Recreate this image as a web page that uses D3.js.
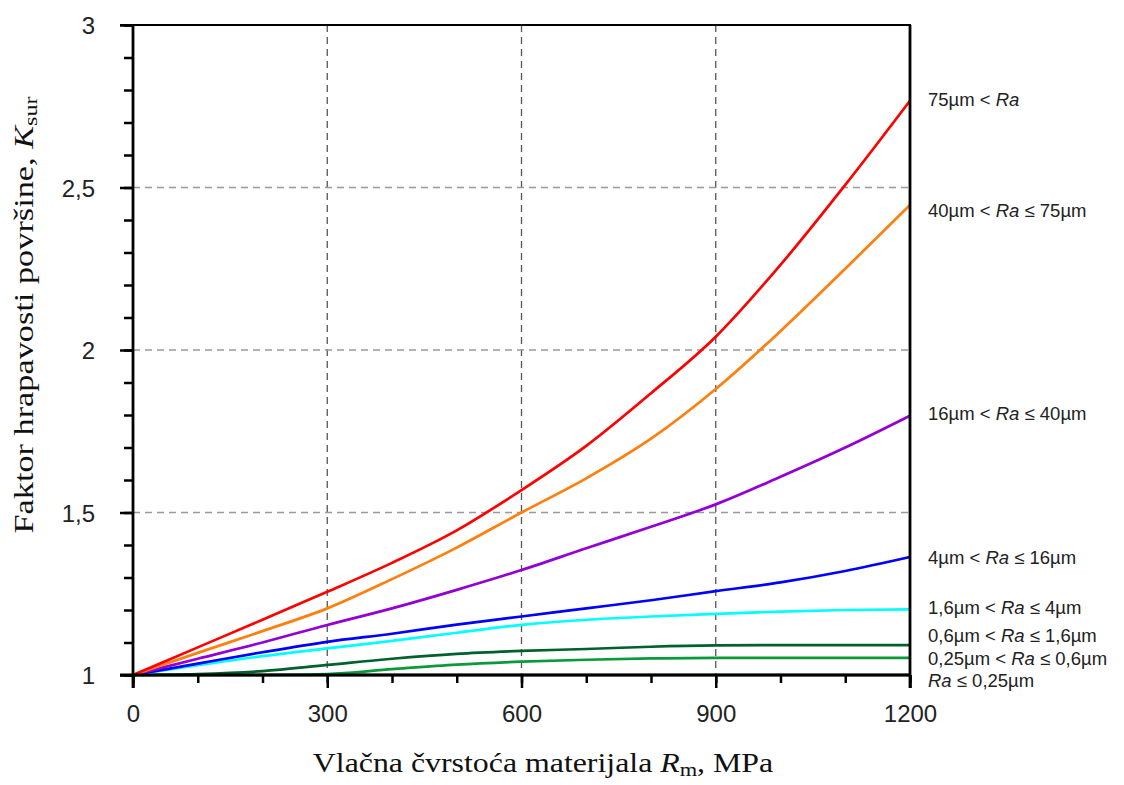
<!DOCTYPE html>
<html>
<head>
<meta charset="utf-8">
<script src="https://cdn.jsdelivr.net/npm/d3@7"></script>
<style>
  body { margin: 0; background: #fff; }
  svg { display: block; }
</style>
</head>
<body>
<svg id="chart" width="1124" height="785"></svg>
<script>
// ---- data ----
const strength = [0, 100, 200, 300, 400, 500, 600, 700, 800, 900, 1000, 1100, 1200];
const ra75 =     [1, 1.085, 1.17, 1.256, 1.345, 1.445, 1.569, 1.705, 1.867, 2.041, 2.262, 2.508, 2.767];
const ra40_75 =  [1, 1.068, 1.135, 1.205, 1.295, 1.392, 1.50, 1.605, 1.727, 1.88, 2.058, 2.25, 2.446];
const ra16_40 =  [1, 1.05, 1.10, 1.154, 1.205, 1.262, 1.323, 1.39, 1.456, 1.525, 1.61, 1.70, 1.798];
const ra4_16 =   [1, 1.035, 1.07, 1.102, 1.127, 1.155, 1.18, 1.205, 1.23, 1.258, 1.285, 1.32, 1.363];
const ra16_4 =   [1, 1.03, 1.058, 1.082, 1.105, 1.13, 1.154, 1.17, 1.18, 1.188, 1.195, 1.2, 1.202];
const ra06_16 =  [1, 1.003, 1.012, 1.031, 1.05, 1.065, 1.074, 1.08, 1.087, 1.091, 1.092, 1.092, 1.092];
const ra025_06 = [1, 1, 1, 1.003, 1.018, 1.032, 1.041, 1.047, 1.051, 1.053, 1.053, 1.053, 1.053];
const ra025 =    [1, 1, 1, 1, 1, 1, 1, 1, 1, 1, 1, 1, 1];

const seriesNames = [
  ["75µm < ", "Ra", ""],
  ["40µm < ", "Ra", " ≤ 75µm"],
  ["16µm < ", "Ra", " ≤ 40µm"],
  ["4µm < ", "Ra", " ≤ 16µm"],
  ["1,6µm < ", "Ra", " ≤ 4µm"],
  ["0,6µm < ", "Ra", " ≤ 1,6µm"],
  ["0,25µm < ", "Ra", " ≤ 0,6µm"],
  ["", "Ra", " ≤ 0,25µm"]
];
const seriesValues = [ra75, ra40_75, ra16_40, ra4_16, ra16_4, ra06_16, ra025_06, ra025];
const seriesColors = ["#ff0000", "#ff7f0e", "#9400d3", "#0000ff", "#00ffff", "#00602e", "#0a9a3c", "#000000"];
const labelValues = [2.77, 2.43, 1.805, 1.363, 1.208, 1.12, 1.05, 0.982];

const xTicks = [0, 300, 600, 900, 1200];
const yTicks = [1, 1.5, 2, 2.5, 3];

// ---- layout ----
const svg = d3.select("#chart");
const m = { left: 133, right: 910, top: 25, bottom: 675 };
const x = d3.scaleLinear().domain([0, 1200]).range([m.left, m.right]);
const y = d3.scaleLinear().domain([1, 3]).range([m.bottom, m.top]);
const fmt = d => String(d).replace(".", ",");

// grid
const grid = svg.append("g");
grid.selectAll("line.v").data(xTicks.slice(1, -1)).join("line")
  .attr("x1", d => x(d)).attr("x2", d => x(d))
  .attr("y1", m.top).attr("y2", m.bottom)
  .attr("stroke", "#555").attr("stroke-width", 1.3).attr("stroke-dasharray", "7,5");
grid.selectAll("line.h").data(yTicks.slice(1, -1)).join("line")
  .attr("x1", m.left).attr("x2", m.right)
  .attr("y1", d => y(d)).attr("y2", d => y(d))
  .attr("stroke", "#999").attr("stroke-width", 1.6).attr("stroke-dasharray", "7,5");

// curves
const line = d3.line()
  .x((d, i) => x(strength[i]))
  .y(d => y(d))
  .curve(d3.curveMonotoneX);
svg.append("g").selectAll("path").data(seriesValues.slice().reverse()).join("path")
  .attr("d", d => line(d))
  .attr("fill", "none")
  .attr("stroke", (d, i) => seriesColors[seriesValues.length - 1 - i])
  .attr("stroke-width", 2.7);

// axes
const axisFont = "Arial, 'Liberation Sans', sans-serif";
const yMinor = d3.axisLeft(y).tickValues(d3.range(10, 31).map(v => v / 10)).tickSize(9).tickFormat("");
const gYm = svg.append("g").attr("transform", `translate(${m.left},0)`).call(yMinor);
const yMajor = d3.axisLeft(y).tickValues(yTicks).tickSize(13).tickPadding(25).tickFormat(fmt);
const gY = svg.append("g").attr("transform", `translate(${m.left},0)`).call(yMajor);

const xMinor = d3.axisBottom(x).tickValues(d3.range(0, 1201, 100)).tickSize(8).tickFormat("");
const gXm = svg.append("g").attr("transform", `translate(0,${m.bottom})`).call(xMinor);
const xMajor = d3.axisBottom(x).tickValues(xTicks).tickSize(13).tickPadding(17).tickFormat(d => d);
const gX = svg.append("g").attr("transform", `translate(0,${m.bottom})`).call(xMajor);

[gYm, gY, gXm, gX].forEach(g => {
  g.select(".domain").remove();
  g.selectAll("line").attr("stroke", "#000").attr("stroke-width", 2.5);
  g.selectAll("text").attr("font-family", axisFont).attr("font-size", 24).attr("fill", "#222");
});
gY.selectAll("text").attr("dy", "0.36em");

// frame
const frame = svg.append("g").attr("stroke", "#000").attr("fill", "none");
frame.append("line").attr("x1", m.left).attr("x2", m.left).attr("y1", m.top - 1).attr("y2", m.bottom + 13).attr("stroke-width", 2.8);
frame.append("line").attr("x1", m.left - 13).attr("x2", m.right + 1).attr("y1", m.bottom).attr("y2", m.bottom).attr("stroke-width", 2.8);
frame.append("line").attr("x1", m.left - 13).attr("x2", m.right + 1).attr("y1", m.top).attr("y2", m.top).attr("stroke-width", 2.2);
frame.append("line").attr("x1", m.right).attr("x2", m.right).attr("y1", m.top).attr("y2", m.bottom + 13).attr("stroke-width", 2.8);

// series labels
const lab = svg.append("g").attr("font-family", axisFont).attr("font-size", 18.5).attr("fill", "#222");
seriesNames.forEach((parts, i) => {
  const t = lab.append("text").attr("x", 928).attr("y", y(labelValues[i])).attr("dy", "0.35em");
  t.append("tspan").text(parts[0]);
  t.append("tspan").attr("font-style", "italic").text(parts[1]);
  t.append("tspan").text(parts[2]);
});

// axis titles
const serif = "'Times New Roman', 'Liberation Serif', serif";
const xt = svg.append("text").attr("transform", "translate(543,772) scale(1.18,1)").attr("text-anchor", "middle")
  .attr("font-family", serif).attr("font-size", 27).attr("fill", "#111");
xt.append("tspan").text("Vlačna čvrstoća materijala ");
xt.append("tspan").attr("font-style", "italic").text("R");
xt.append("tspan").attr("font-size", 19).attr("dy", 4).text("m");
xt.append("tspan").attr("dy", -4).text(", MPa");

const yt = svg.append("text").attr("transform", "translate(33,315) rotate(-90) scale(1.27,1)").attr("text-anchor", "middle")
  .attr("font-family", serif).attr("font-size", 27).attr("fill", "#111");
yt.append("tspan").text("Faktor hrapavosti površine, ");
yt.append("tspan").attr("font-style", "italic").text("K");
yt.append("tspan").attr("font-size", 19).attr("dy", 4).text("sur");
</script>
</body>
</html>
